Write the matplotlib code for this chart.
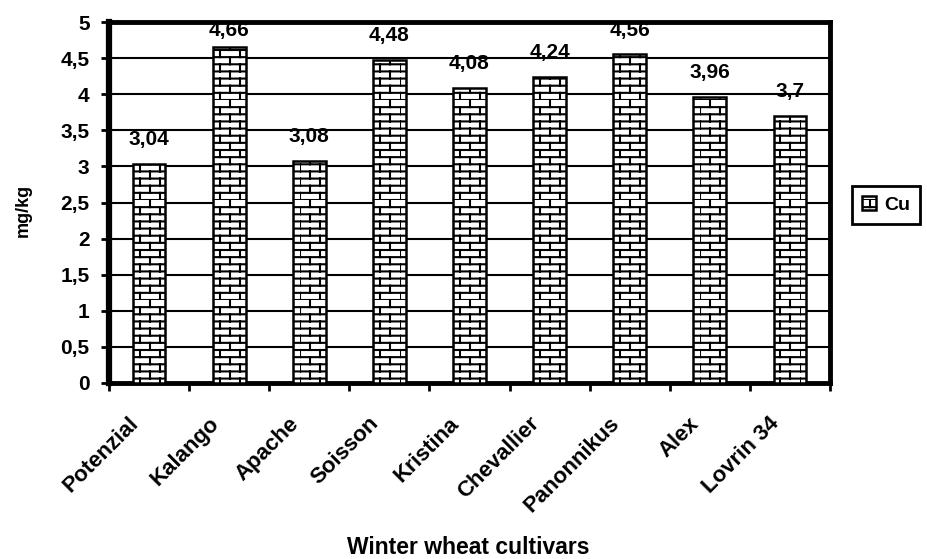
import warnings
warnings.filterwarnings("ignore")
import numpy as np
import matplotlib
matplotlib.use("Agg")
import matplotlib.pyplot as plt
from matplotlib import hatch as mhatch
from matplotlib.path import Path
from matplotlib.ticker import FuncFormatter, MultipleLocator, FixedLocator

categories = ["Potenzial", "Kalango", "Apache", "Soisson", "Kristina",
              "Chevallier", "Panonnikus", "Alex", "Lovrin 34"]
cu_values = [3.04, 4.66, 3.08, 4.48, 4.08, 4.24, 4.56, 3.96, 3.7]
value_labels = ["3,04", "4,66", "3,08", "4,48", "4,08", "4,24", "4,56", "3,96", "3,7"]
series_name = "Cu"


class BrickHatch(mhatch.HatchPatternBase):
    def __init__(self, hatch, density):
        self.on = 'b' in hatch
        self.rows = 14
        self.cols = 5
        self.num_vertices = (self.rows + self.rows * self.cols) * 2 if self.on else 0

    def set_vertices_and_codes(self, vertices, codes):
        k = 0
        for i in range(self.rows):
            y = i / self.rows
            vertices[k] = (0, y); codes[k] = Path.MOVETO; k += 1
            vertices[k] = (1, y); codes[k] = Path.LINETO; k += 1
        for i in range(self.rows):
            y0 = i / self.rows
            y1 = (i + 1) / self.rows
            for j in range(self.cols):
                x = (j + 0.5 * (i % 2)) / self.cols
                vertices[k] = (x, y0); codes[k] = Path.MOVETO; k += 1
                vertices[k] = (x, y1); codes[k] = Path.LINETO; k += 1


mhatch._hatch_types.append(BrickHatch)

plt.rcParams['font.family'] = ['Liberation Sans', 'DejaVu Sans']
plt.rcParams['font.weight'] = 'bold'
plt.rcParams['hatch.linewidth'] = 1.5
plt.rcParams['hatch.color'] = 'black'

fig = plt.figure(figsize=(9.27, 5.59), dpi=100)
ax = fig.add_axes([109 / 927, 1 - 383 / 559, (830 - 109) / 927, (383 - 22) / 559])

x = np.arange(len(categories))
bars = ax.bar(x, cu_values, width=0.41, color='white', edgecolor='black',
              linewidth=1.8, hatch='b', zorder=3, label=series_name)

ymax = 5.0
label_off = 0.263   # gap between bar top and label baseline (data units)
label_cap = 4.80    # labels are kept inside the plot area
for xi, v, lab in zip(x, cu_values, value_labels):
    ax.text(xi, min(v + label_off, label_cap), lab, ha='center', va='baseline',
            fontsize=15, fontweight='bold', zorder=4)

ax.set_xlim(-0.5, len(categories) - 0.5)
ax.set_ylim(0, ymax)
ax.yaxis.set_major_locator(MultipleLocator(0.5))
ax.yaxis.set_major_formatter(FuncFormatter(lambda v, p: ('%g' % v).replace('.', ',')))
ax.grid(axis='y', color='black', linewidth=1.5, zorder=0)
ax.set_axisbelow(True)

label_shift = -0.17   # rotated labels end slightly left of the bar centre
ax.set_xticks(x + label_shift)
ax.set_xticklabels(categories, rotation=45, ha='right', va='center',
                   rotation_mode='anchor', fontsize=16, fontweight='bold')
ax.xaxis.set_minor_locator(FixedLocator(np.arange(-0.5, len(categories), 1.0)))
ax.tick_params(axis='x', which='major', length=0, pad=27)
ax.tick_params(axis='x', which='minor', length=6, width=2, direction='out')
ax.tick_params(axis='y', which='major', length=6, width=2, direction='out',
               labelsize=15, pad=8)
for lab in ax.get_yticklabels():
    lab.set_fontweight('bold')

for side in ['right', 'top', 'bottom']:
    ax.spines[side].set_linewidth(3.5)
    ax.spines[side].set_color('black')
ax.spines['left'].set_linewidth(4.5)

fig.text(23 / 927, 1 - 210 / 559, 'mg/kg', rotation=90, ha='center', va='center',
         fontsize=13, fontweight='bold')
fig.text(468 / 927, 1 - 547 / 559, 'Winter wheat cultivars', ha='center',
         va='center', fontsize=16.5, fontweight='bold')

leg = fig.legend(handles=[bars], labels=[series_name], loc='center left',
                 bbox_to_anchor=(852 / 927, 1 - 205 / 559), fancybox=False,
                 edgecolor='black', framealpha=1, handlelength=0.75,
                 handleheight=0.75, handletextpad=0.4, borderpad=0.5,
                 borderaxespad=0, prop={'weight': 'bold', 'size': 14})
leg.get_frame().set_linewidth(2)

fig.savefig('out.png', dpi=100)
